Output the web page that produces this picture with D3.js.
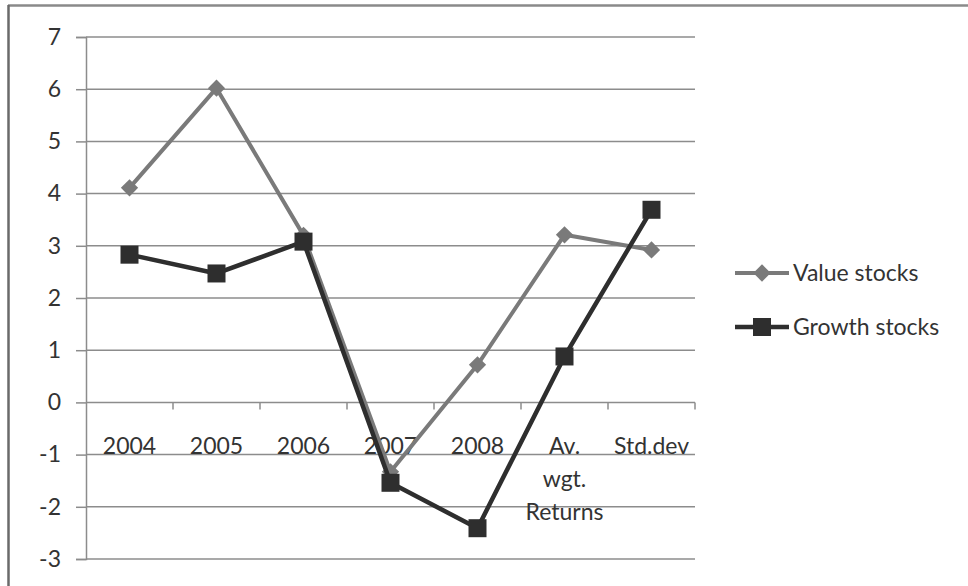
<!DOCTYPE html>
<html>
<head>
<meta charset="utf-8">
<script src="https://cdn.jsdelivr.net/npm/d3@7"></script>
<style>
  html, body { margin: 0; padding: 0; background: #fff; }
  svg { display: block; }
  text { font-family: Lato, "Open Sans", sans-serif; fill: #333; }
</style>
</head>
<body>
<svg id="chart" width="968" height="586"></svg>
<script>
// Categories along the x axis (labels may wrap onto several lines)
const categories = ["2004", "2005", "2006", "2007", "2008", "Av. wgt. Returns", "Std.dev"];
const categoryLines = [["2004"], ["2005"], ["2006"], ["2007"], ["2008"], ["Av.", "wgt.", "Returns"], ["Std.dev"]];

// Series values
const valueStocks = [4.11, 6.02, 3.2, -1.33, 0.72, 3.21, 2.92];
const growthStocks = [2.83, 2.47, 3.08, -1.54, -2.41, 0.88, 3.69];

// Y axis ticks
const yTicks = [-3, -2, -1, 0, 1, 2, 3, 4, 5, 6, 7];

const seriesNames = ["Value stocks", "Growth stocks"];

const fontSize = "23px";
const svg = d3.select("#chart");

// Frame around the chart area
svg.append("line").attr("x1", 8).attr("x2", 968).attr("y1", 5.5).attr("y2", 5.5)
  .attr("stroke", "#8a8a8a").attr("stroke-width", 2.5);
svg.append("line").attr("x1", 8.5).attr("x2", 8.5).attr("y1", 5).attr("y2", 586)
  .attr("stroke", "#6a6a6a").attr("stroke-width", 2.5);

const plot = { left: 86, right: 695, top: 37, bottom: 559 };

const x = d3.scaleBand().domain(categories).range([plot.left, plot.right]).paddingInner(0).paddingOuter(0);
const y = d3.scaleLinear().domain([-3, 7]).range([plot.bottom, plot.top]);

// Horizontal gridlines with left tick stubs and labels
const yAxis = d3.axisLeft(y).tickValues(yTicks).tickSize(10).tickPadding(15).tickFormat(d3.format("d"));
const gy = svg.append("g").attr("transform", `translate(${plot.left},0)`).call(yAxis);
gy.select(".domain").attr("stroke", "#8c8c8c").attr("stroke-width", 1.5);
gy.selectAll(".tick line").attr("stroke", "#8c8c8c").attr("stroke-width", 1.5);
gy.selectAll(".tick text").style("font-size", fontSize).attr("fill", "#333")
  .text(d => d < 0 ? "-" + Math.abs(d) : d);

svg.append("g").selectAll("line").data(yTicks).join("line")
  .attr("x1", plot.left).attr("x2", plot.right)
  .attr("y1", d => y(d)).attr("y2", d => y(d))
  .attr("stroke", "#8c8c8c").attr("stroke-width", 1.5);

// Category axis drawn on the zero line
const xTickPos = categories.map(c => x(c)).concat([plot.right]).slice(1);
svg.append("g").selectAll("line").data(xTickPos).join("line")
  .attr("x1", d => d).attr("x2", d => d)
  .attr("y1", y(0)).attr("y2", y(0) + 7)
  .attr("stroke", "#8c8c8c").attr("stroke-width", 1.5);

const xl = svg.append("g");
categories.forEach((c, i) => {
  const t = xl.append("text")
    .attr("x", x(c) + x.bandwidth() / 2)
    .attr("y", 454)
    .attr("text-anchor", "middle")
    .style("font-size", fontSize);
  categoryLines[i].forEach((ln, j) => {
    t.append("tspan").attr("x", x(c) + x.bandwidth() / 2).attr("dy", j === 0 ? 0 : 33).text(ln);
  });
});

const cx = c => x(c) + x.bandwidth() / 2;
const line = d3.line().x((d, i) => cx(categories[i])).y(d => y(d));

const valueColor = "#7a7a7a";
const growthColor = "#2e2e2e";

// Value stocks series
svg.append("path").datum(valueStocks).attr("d", line)
  .attr("fill", "none").attr("stroke", valueColor).attr("stroke-width", 4).attr("stroke-linejoin", "round");
const diamond = d3.symbol().type(d3.symbolDiamond2).size(190);
svg.append("g").selectAll("path").data(valueStocks).join("path")
  .attr("d", diamond)
  .attr("transform", (d, i) => `translate(${cx(categories[i])},${y(d)})`)
  .attr("fill", valueColor);

// Growth stocks series
svg.append("path").datum(growthStocks).attr("d", line)
  .attr("fill", "none").attr("stroke", growthColor).attr("stroke-width", 4.5).attr("stroke-linejoin", "round");
const sq = 18;
svg.append("g").selectAll("rect").data(growthStocks).join("rect")
  .attr("x", (d, i) => cx(categories[i]) - sq / 2)
  .attr("y", d => y(d) - sq / 2)
  .attr("width", sq).attr("height", sq)
  .attr("fill", growthColor);

// Legend
const legend = svg.append("g");
const legendRows = [
  { name: seriesNames[0], color: valueColor, y: 273, mark: "diamond" },
  { name: seriesNames[1], color: growthColor, y: 327, mark: "square" }
];
legendRows.forEach(r => {
  legend.append("line").attr("x1", 735).attr("x2", 789).attr("y1", r.y).attr("y2", r.y)
    .attr("stroke", r.color).attr("stroke-width", r.mark === "square" ? 4.5 : 4);
  if (r.mark === "diamond") {
    legend.append("path").attr("d", diamond).attr("transform", `translate(762,${r.y})`).attr("fill", r.color);
  } else {
    legend.append("rect").attr("x", 762 - sq / 2).attr("y", r.y - sq / 2).attr("width", sq).attr("height", sq).attr("fill", r.color);
  }
  legend.append("text").attr("x", 793).attr("y", r.y + 8).style("font-size", fontSize).text(r.name);
});
</script>
</body>
</html>
